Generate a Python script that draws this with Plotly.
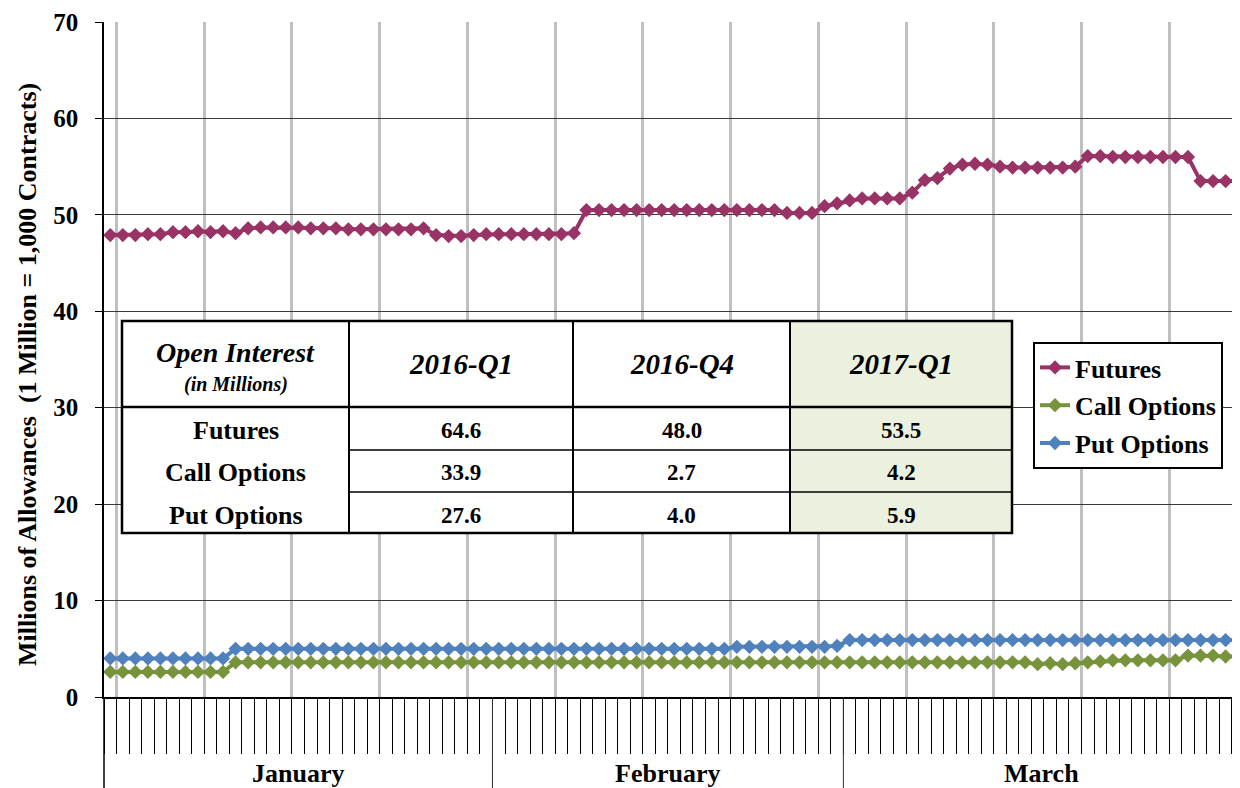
import plotly.graph_objects as go

# ---------------- data ----------------
months = ["January", "February", "March"]
month_days = [31, 28, 31]

futures = [47.9, 47.9, 47.9, 48.0, 48.0, 48.2, 48.2, 48.3, 48.2, 48.3,
           48.1, 48.6, 48.7, 48.7, 48.7, 48.7, 48.6, 48.6, 48.6, 48.5,
           48.5, 48.5, 48.5, 48.5, 48.5, 48.6, 47.9, 47.8, 47.8, 47.9,
           48.0, 48.0, 48.0, 48.0, 48.0, 48.0, 48.0, 48.1,
           50.5, 50.5, 50.5, 50.5, 50.5, 50.5, 50.5, 50.5, 50.5, 50.5,
           50.5, 50.5, 50.5, 50.5, 50.5, 50.5,
           50.2, 50.2, 50.2,
           50.9, 51.2, 51.5, 51.7, 51.7, 51.7, 51.7,
           52.3, 53.6, 53.8, 54.8, 55.2, 55.3, 55.2,
           55.0, 54.9, 54.9, 54.9, 54.9, 54.9, 55.0,
           56.1, 56.1, 56.0, 56.0, 56.0, 56.0, 56.0, 56.0, 56.0,
           53.5, 53.5, 53.5, 53.5]

call_options = [2.6] * 10 + [3.6] * 64 + [3.4, 3.5, 3.4, 3.5] + \
               [3.6, 3.7, 3.8, 3.8, 3.8, 3.8, 3.8, 3.8] + [4.3, 4.3, 4.3, 4.2, 4.2]

put_options = [4.0] * 10 + [5.0] * 40 + [5.2] * 8 + [5.3] + [5.9] * 32

days = list(range(len(futures)))

table_cols = ["2016-Q1", "2016-Q4", "2017-Q1"]
table_rows = ["Futures", "Call Options", "Put Options"]
table_futures = [64.6, 48.0, 53.5]
table_call = [33.9, 2.7, 4.2]
table_put = [27.6, 4.0, 5.9]

series_names = ["Futures", "Call Options", "Put Options"]
series_colors = ["#993366", "#77933C", "#4F81BD"]

# ---------------- layout helpers (page pixel coordinates) ----------------
OFF = 8                      # default body margin of the html page
PAGE_W, PAGE_H = 1240, 788
FW, FH = PAGE_W - OFF, PAGE_H - OFF
L, R, T, B = 104, 1240, 22, 697
W, H = R - L, B - T
XMIN, XMAX = -0.5, 90.15
FONT = "Liberation Serif"


def px(x):
    return (x - L) / W


def py(y):
    return (B - y) / H


def xdata_to_paper(v):
    return (v - XMIN) / (XMAX - XMIN)


fig = go.Figure()
for name, vals, col in zip(series_names, [futures, call_options, put_options], series_colors):
    fig.add_trace(go.Scatter(
        x=days, y=vals, name=name, mode="lines+markers",
        line=dict(color=col, width=4),
        marker=dict(symbol="diamond", size=11, color=col),
        legendgroup=name,
    ))

shapes = []
annotations = []

# month separators, y-axis extension
bounds = [-0.5]
for d in month_days:
    bounds.append(bounds[-1] + d)
for b in bounds[1:-1]:
    xp = xdata_to_paper(b)
    shapes.append(dict(type="line", xref="paper", yref="paper", x0=xp, x1=xp,
                       y0=0, y1=py(PAGE_H), line=dict(color="#303030", width=1)))
shapes.append(dict(type="line", xref="paper", yref="paper", x0=0, x1=0,
                   y0=0, y1=py(PAGE_H), line=dict(color="black", width=1.5)))

# month labels (last one centred on the visible part of the axis)
for i, m in enumerate(months):
    a = bounds[i]
    b = bounds[i + 1] if i < len(months) - 1 else XMAX
    annotations.append(dict(x=(a + b) / 2, xref="x", y=py(773), yref="paper",
                            text="<b>%s</b>" % m, showarrow=False,
                            font=dict(family=FONT, size=26, color="black"),
                            xanchor="center", yanchor="middle"))

# y-axis title
annotations.append(dict(x=px(27), y=py(375), xref="paper", yref="paper",
                        text="<b>Millions of Allowances \u00a0(1 Million = 1,000 Contracts)</b>",
                        textangle=-90, showarrow=False,
                        font=dict(family=FONT, size=26, color="black"),
                        xanchor="center", yanchor="middle"))

# ---------------- inset table ----------------
col_x = [122, 349, 573, 790, 1012]
row_y = [321, 407, 450, 492, 533]

shapes.append(dict(type="rect", xref="paper", yref="paper", layer="above",
                   x0=px(col_x[0]), x1=px(col_x[-1]), y0=py(row_y[0]), y1=py(row_y[-1]),
                   fillcolor="white", line=dict(width=0)))
shapes.append(dict(type="rect", xref="paper", yref="paper", layer="above",
                   x0=px(col_x[3]), x1=px(col_x[4]), y0=py(row_y[0]), y1=py(row_y[-1]),
                   fillcolor="#EBF1DE", line=dict(width=0)))
for ry in row_y[2:4]:
    shapes.append(dict(type="line", xref="paper", yref="paper", layer="above",
                       x0=px(col_x[1]), x1=px(col_x[-1]), y0=py(ry), y1=py(ry),
                       line=dict(color="black", width=1.5)))
for cx in col_x[1:4]:
    shapes.append(dict(type="line", xref="paper", yref="paper", layer="above",
                       x0=px(cx), x1=px(cx), y0=py(row_y[0]), y1=py(row_y[-1]),
                       line=dict(color="black", width=2)))
shapes.append(dict(type="line", xref="paper", yref="paper", layer="above",
                   x0=px(col_x[0]), x1=px(col_x[-1]), y0=py(row_y[1]), y1=py(row_y[1]),
                   line=dict(color="black", width=2.5)))
shapes.append(dict(type="rect", xref="paper", yref="paper", layer="above",
                   x0=px(col_x[0]), x1=px(col_x[-1]), y0=py(row_y[0]), y1=py(row_y[-1]),
                   line=dict(color="black", width=2.5)))


def add_text(text, cx, cy, size):
    annotations.append(dict(x=px(cx), y=py(cy), xref="paper", yref="paper",
                            text=text, showarrow=False,
                            font=dict(family=FONT, size=size, color="black"),
                            xanchor="center", yanchor="middle"))


c0 = (col_x[0] + col_x[1]) / 2
add_text("<b><i>Open Interest</i></b>", c0, 352, 28)
add_text("<b><i>(in Millions)</i></b>", c0, 384, 20)
for j, c in enumerate(table_cols):
    add_text("<b><i>%s</i></b>" % c, (col_x[j + 1] + col_x[j + 2]) / 2, 364, 29)
row_centers = [430, 472, 515]
for r, name, vals in zip(row_centers, table_rows, [table_futures, table_call, table_put]):
    add_text("<b>%s</b>" % name, c0, r, 26)
    for j, v in enumerate(vals):
        add_text("<b>%.1f</b>" % v, (col_x[j + 1] + col_x[j + 2]) / 2, r, 23)

weekly = [0.5 + 7 * k for k in range(13)]

fig.update_layout(
    width=FW, height=FH,
    margin=dict(l=L - OFF, r=PAGE_W - R, t=T - OFF, b=PAGE_H - B, pad=0),
    plot_bgcolor="white", paper_bgcolor="white",
    font=dict(family=FONT, color="black"),
    showlegend=True,
    legend=dict(x=px(1033), y=py(342), xanchor="left", yanchor="top",
                bgcolor="white", bordercolor="black", borderwidth=2,
                font=dict(family=FONT, size=26, color="black", weight="bold"),
                tracegroupgap=1),
    shapes=shapes, annotations=annotations,
    xaxis=dict(range=[XMIN, XMAX], tickmode="array", tickvals=weekly,
               showticklabels=False, showgrid=True, gridcolor="#c0c0c0", gridwidth=3,
               ticks="outside", ticklen=55, tickwidth=1, tickcolor="black",
               minor=dict(tick0=0.5, dtick=1, ticks="outside", ticklen=55,
                          tickwidth=1, tickcolor="black", showgrid=False),
               showline=True, linecolor="black", linewidth=1.5, zeroline=False),
    yaxis=dict(range=[0, 70], dtick=10, showgrid=True, gridcolor="#3a3a3a", gridwidth=1,
               ticks="outside", ticklen=7, tickcolor="black", tickwidth=1,
               tickfont=dict(family=FONT, size=25, color="black", weight="bold"),
               ticklabelstandoff=12,
               showline=True, linecolor="black", linewidth=1.5, zeroline=False),
)

fig.write_html("out.html")
